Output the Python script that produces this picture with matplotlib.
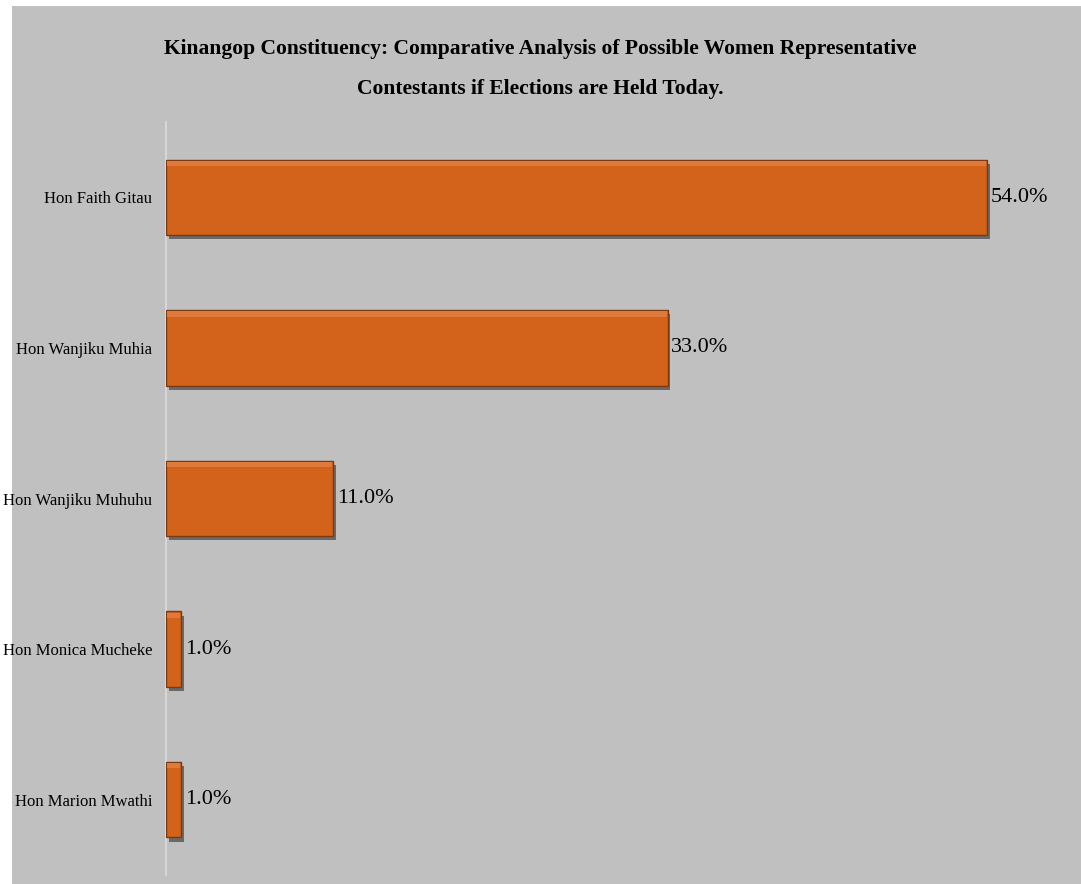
import matplotlib.pyplot as plt
import matplotlib.patheffects as pe
from matplotlib.patches import Rectangle

# data
candidates = ["Hon Faith Gitau", "Hon Wanjiku Muhia", "Hon Wanjiku Muhuhu",
              "Hon Monica Mucheke", "Hon Marion Mwathi"]
shares = [54.0, 33.0, 11.0, 1.0, 1.0]
title = ("Kinangop Constituency: Comparative Analysis of Possible Women Representative\n"
         "Contestants if Elections are Held Today.")

bg = "#c0c0c0"
bar_col = "#d3621b"

plt.rcParams['font.family'] = ['Liberation Serif', 'DejaVu Serif']

fig = plt.figure(figsize=(10.81, 8.84), dpi=100)
fig.patch.set_facecolor("white")
# grey panel with a thin white margin on the left and top
fig.add_artist(Rectangle((12 / 1081, 0), 1, 1 - 6 / 884, transform=fig.transFigure,
                         facecolor=bg, edgecolor="none", zorder=0))

ax = fig.add_axes([166 / 1081, 9 / 884, 912 / 1081, 753 / 884])
ax.set_facecolor("none")

ypos = list(range(len(candidates)))
bars = ax.barh(ypos, shares, height=0.5, color=bar_col, edgecolor="#7a3a10",
               linewidth=1.0, zorder=3)
for b in bars:
    b.set_path_effects([pe.SimplePatchShadow(offset=(2, -3), shadow_rgbFace="black", alpha=0.45),
                        pe.Normal()])
# soft highlight along the top of each bar
ax.barh([y - 0.225 for y in ypos], [v - 0.1 for v in shares], left=0.05, height=0.035,
        color="#e07a3c", edgecolor="none", zorder=4)

for y, v in zip(ypos, shares):
    ax.text(v + 0.25, y, f"{v:.1f}%", va="center", ha="left", fontsize=16, zorder=5)

ax.set_xlim(0, 60)
ax.set_ylim(4.5, -0.5)
ax.set_yticks(ypos)
ax.set_yticklabels(candidates, fontsize=12)
ax.tick_params(axis="y", length=0, pad=10)
ax.set_xticks([])
for s in ["top", "right", "bottom"]:
    ax.spines[s].set_visible(False)
ax.spines["left"].set_color("#dcdcdc")
ax.spines["left"].set_linewidth(1.2)

fig.text(540 / 1081, 1 - 69 / 884, title, ha="center", va="center", fontsize=15.5,
         fontweight="bold", linespacing=2.35)

fig.savefig("out.png", dpi=100)
